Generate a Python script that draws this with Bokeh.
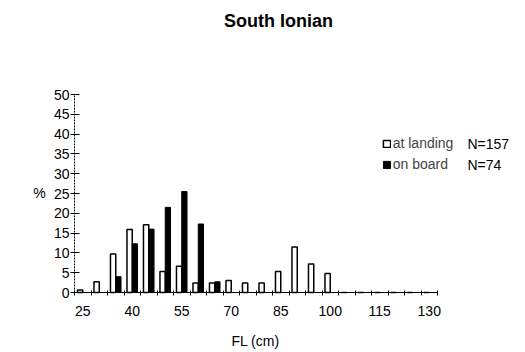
from bokeh.plotting import figure
from bokeh.models import (ColumnDataSource, Range1d, FixedTicker, Legend, LegendItem,
                          Label, LinearAxis)
from bokeh.transform import dodge
from bokeh.embed import file_html
from bokeh.resources import INLINE

# ---- data ----
fl_classes = [25, 30, 35, 40, 45, 50, 55, 60, 65, 70, 75, 80, 85, 90, 95, 100,
              105, 110, 115, 120, 125, 130]
at_landing = [0.6, 2.7, 9.7, 15.9, 17.1, 5.3, 6.6, 2.4, 2.4, 3.0, 2.4, 2.4,
              5.3, 11.5, 7.2, 4.8, 0, 0, 0, 0, 0, 0]
on_board = [0, 0, 4.0, 12.3, 16.0, 21.5, 25.5, 17.3, 2.7, 0, 0, 0,
            0, 0, 0, 0, 0, 0, 0, 0, 0, 0]
x_tick_labels = [25, 40, 55, 70, 85, 100, 115, 130]
y_ticks = [0, 5, 10, 15, 20, 25, 30, 35, 40, 45, 50]
series_names = ["at landing", "on board"]
n_labels = ["N=157", "N=74"]
title_text = "South Ionian"
x_title = "FL (cm)"
y_title = "%"

FONT = "Liberation Sans"

# ---- geometry: the frame covers the whole figure; axes sit at fixed spots ----
W, H = 525, 352
PAGE = 0                                     # figure's offset on the page
AX_LEFT_PX, AX_BOTTOM_PX = 74, 292          # page px of the axis origin
PX_PER_X, PX_PER_Y = 3.3, 3.96              # px per cm / px per %
x0 = fl_classes[0] - 2.5
x_end = fl_classes[-1] + 2.5
y_top = y_ticks[-1]


def px_x(px):
    return x0 + (px - AX_LEFT_PX) / PX_PER_X


def px_y(py):
    return (AX_BOTTOM_PX - py) / PX_PER_Y


src = ColumnDataSource(dict(fl=fl_classes, landing=at_landing, board=on_board))

p = figure(width=W, height=H, output_backend="svg", toolbar_location=None,
           x_range=Range1d(px_x(PAGE), px_x(PAGE + W)),
           y_range=Range1d(px_y(PAGE + H), px_y(PAGE)),
           x_axis_location=None, y_axis_location=None, min_border=0)
p.outline_line_color = None
p.grid.visible = False
p.background_fill_color = "white"
p.border_fill_color = "white"

r1 = p.vbar(x=dodge("fl", -0.8), top="landing", width=1.6, source=src,
            fill_color="white", line_color="black", line_width=1.5)
r2 = p.vbar(x=dodge("fl", 0.8), top="board", width=1.6, source=src,
            fill_color="black", line_color="black", line_width=1)

# x axis
boundaries = [c - 2.5 for c in fl_classes] + [x_end]
xa = LinearAxis(fixed_location=0, bounds=(x0, x_end),
                ticker=FixedTicker(ticks=x_tick_labels, minor_ticks=boundaries))
xa.major_tick_out = 0
xa.major_tick_in = 0
xa.minor_tick_out = 3
xa.minor_tick_in = 2
xa.minor_tick_line_color = "black"
xa.axis_line_color = "black"
xa.major_label_standoff = 10
xa.major_label_text_font = FONT
xa.major_label_text_font_size = "14px"
xa.major_label_text_color = "black"
p.add_layout(xa, "below")

# y axis
ya = LinearAxis(fixed_location=x0, bounds=(0, y_top),
                ticker=FixedTicker(ticks=y_ticks, minor_ticks=[]))
ya.major_tick_out = 4
ya.major_tick_in = 5
ya.major_tick_line_color = "black"
ya.axis_line_color = "black"
ya.axis_line_dash = "2 1"
ya.major_label_standoff = 1
ya.major_label_text_font = FONT
ya.major_label_text_font_size = "14px"
ya.major_label_text_color = "black"
p.add_layout(ya, "left")

# legend (location in px from frame bottom-left)
legend = Legend(items=[LegendItem(label=series_names[0], renderers=[r1]),
                       LegendItem(label=series_names[1], renderers=[r2])],
                location=(381.7 - PAGE, PAGE + H - 174.5), padding=0, margin=0,
                spacing=0, glyph_width=9, glyph_height=9, label_height=21,
                label_standoff=2, label_text_font=FONT, label_text_font_size="14px",
                border_line_color=None, background_fill_alpha=0)
p.add_layout(legend, "center")

for txt, py in zip(n_labels, [143, 164.5]):
    p.add_layout(Label(x=px_x(467), y=px_y(py), text=txt, text_font=FONT,
                       text_font_size="14px", text_baseline="middle",
                       text_align="left", text_color="black"))

p.add_layout(Label(x=px_x(278), y=px_y(20), text=title_text, text_font=FONT,
                   text_font_size="18px", text_font_style="bold",
                   text_baseline="middle", text_align="center", text_color="black"))
p.add_layout(Label(x=px_x(39), y=px_y(192), text=y_title, text_font=FONT,
                   text_font_size="14px", text_baseline="middle",
                   text_align="center", text_color="black"))
p.add_layout(Label(x=px_x(255), y=px_y(340), text=x_title, text_font=FONT,
                   text_font_size="14px", text_baseline="middle",
                   text_align="center", text_color="black"))

open("out.html", "w").write(file_html(p, INLINE))
